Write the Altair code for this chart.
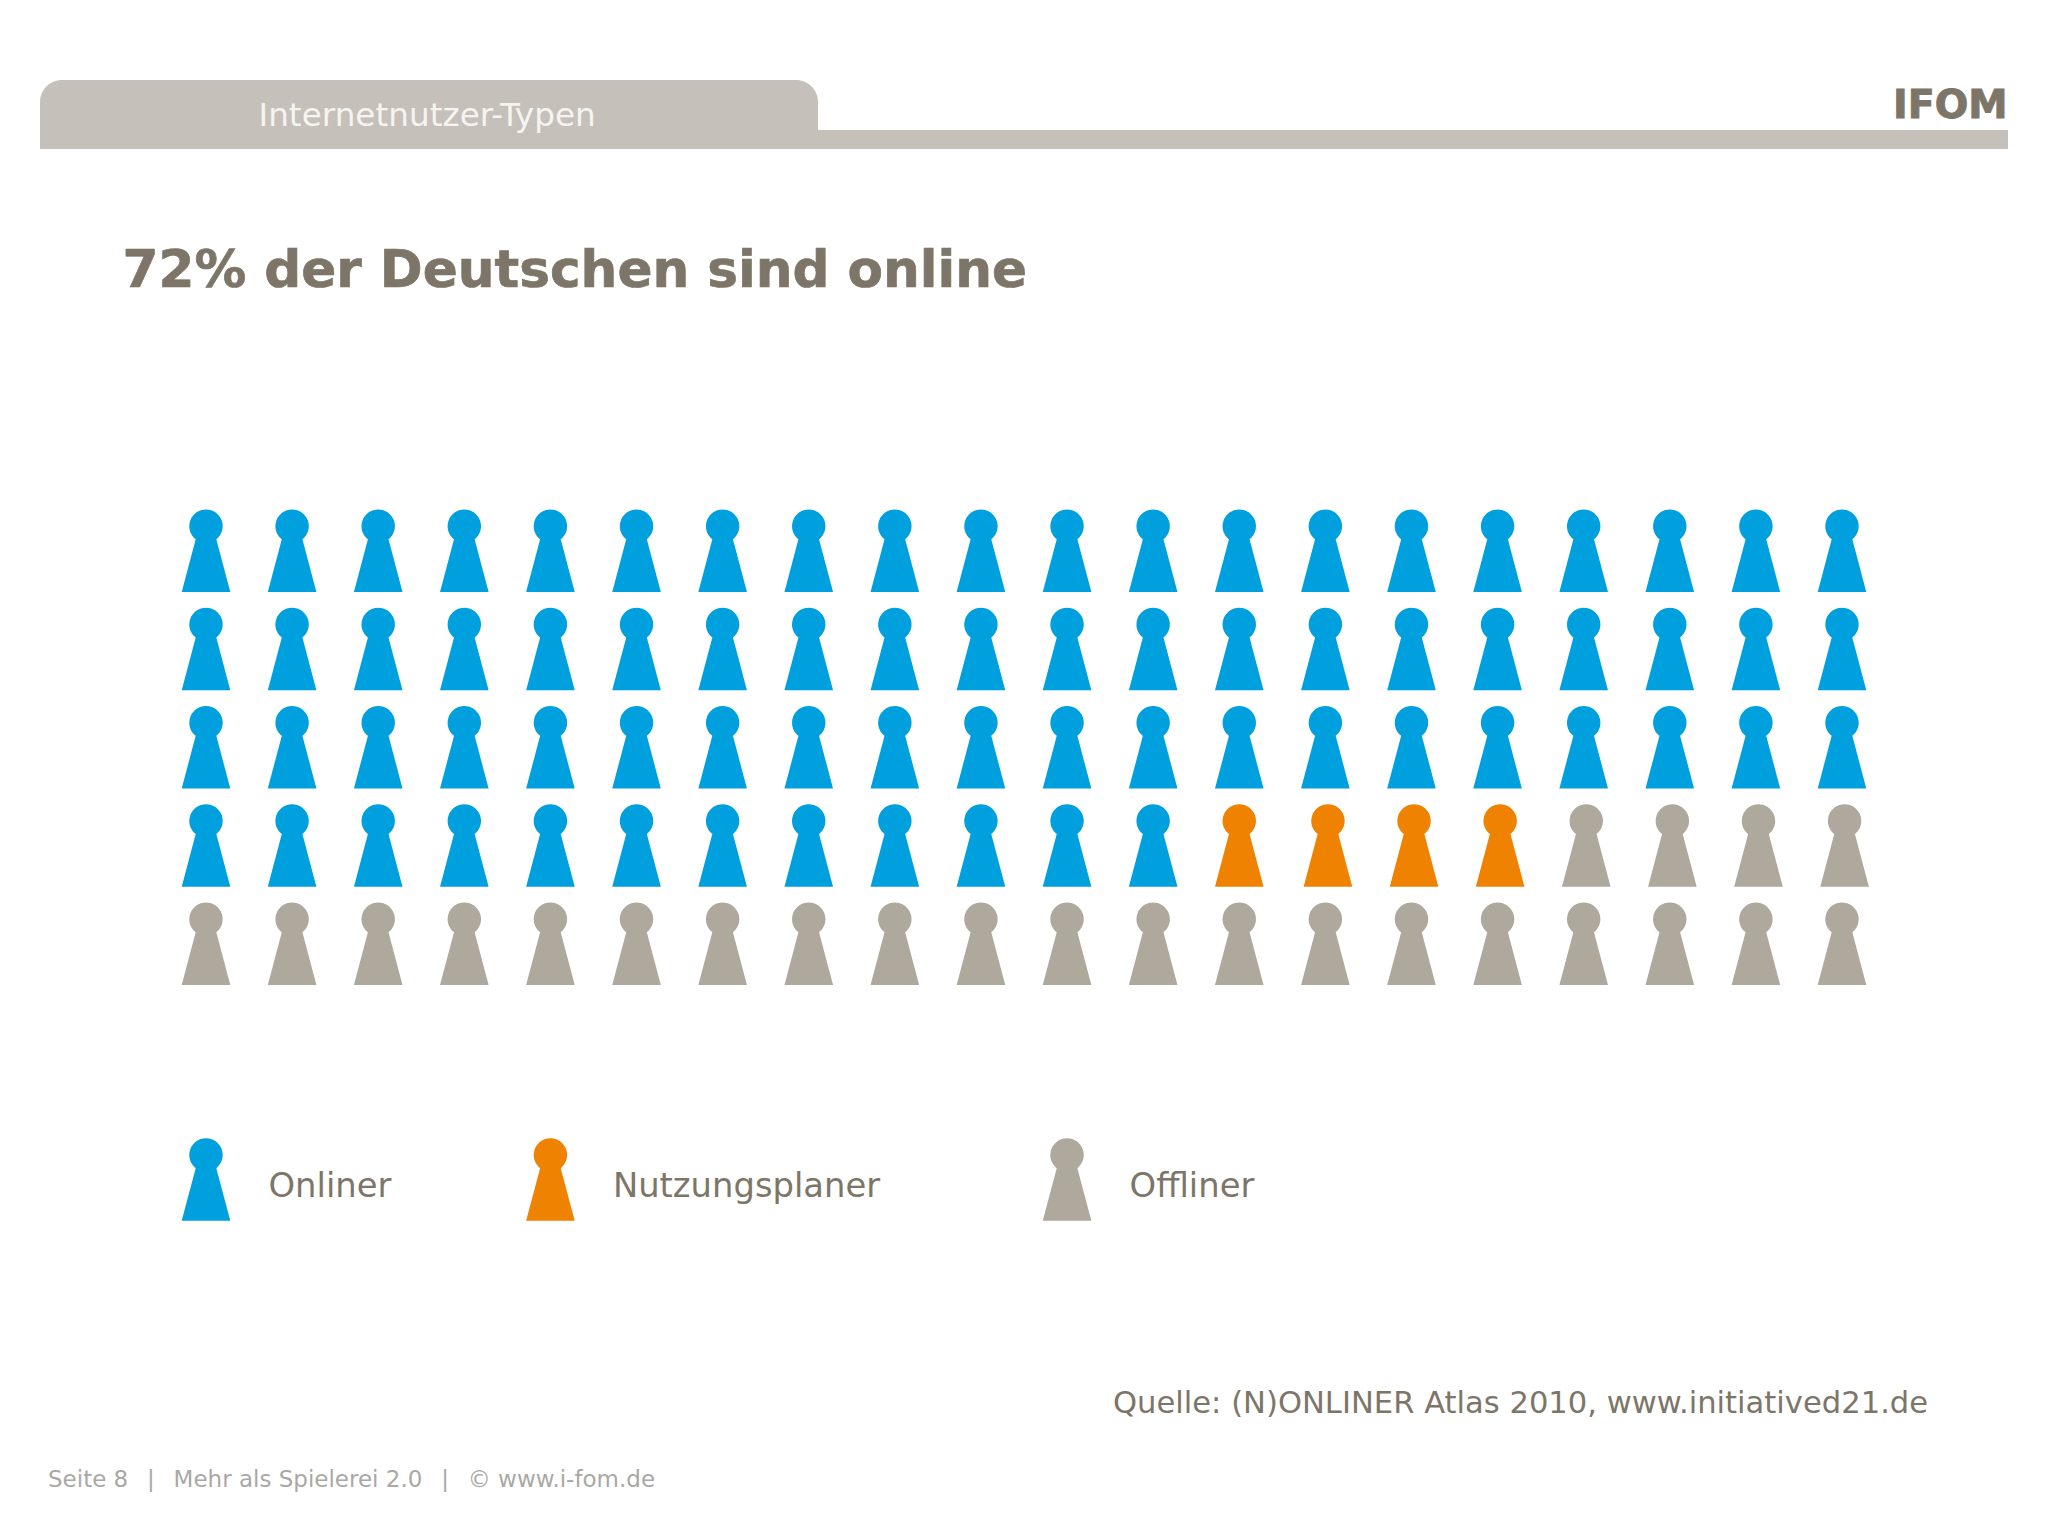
import altair as alt
import pandas as pd

# ---- chart content -------------------------------------------------------
n_columns = 20
row_counts = {
    0: {"Onliner": 20},
    1: {"Onliner": 20},
    2: {"Onliner": 20},
    3: {"Onliner": 12, "Nutzungsplaner": 4, "Offliner": 4},
    4: {"Offliner": 20},
}
categories = ["Onliner", "Nutzungsplaner", "Offliner"]
colors = ["#00a0de", "#ef8200", "#aea89d"]
legend_columns = [0, 4, 10]
legend_row = 6.4
row3_nudge = 0.03  # the row after the blue run sits slightly to the right

tab_title = "Internetnutzer-Typen"
logo = "IFOM"
headline = "72% der Deutschen sind online"
source = "Quelle: (N)ONLINER Atlas 2010, www.initiatived21.de"
footer = "Seite 8\u2002\u00a0|\u2002\u00a0Mehr als Spielerei 2.0\u2002\u00a0|\u2002\u00a0© www.i-fom.de"

TXT = "#7d7668"
BAND = "#c5c0b9"
FONT = "DejaVu Sans"
PAWN = "M-0.25,-0.276 A0.405,0.405 0 1 1 0.25,-0.276 L0.589,1 L-0.589,1 Z"
PAWN_SIZE = 82.5 ** 2
OX, OY = 8, 8  # page margin

# ---- tables --------------------------------------------------------------
rows = []
for row, counts in row_counts.items():
    col = 0
    for cat, n in counts.items():
        for _ in range(n):
            nudge = row3_nudge if (row == 3 and col >= 13) else 0
            rows.append({"col": col + nudge, "row": row, "type": cat})
            col += 1
grid = pd.DataFrame(rows)
leg = pd.DataFrame({"col": legend_columns, "row": [legend_row] * 3, "type": categories})

xs = alt.X("col:Q", axis=None, scale=alt.Scale(domain=[0, 19], range=[206 - OX, 1842 - OX], zero=False, nice=False))
ys = alt.Y("row:Q", axis=None, scale=alt.Scale(domain=[0, 4], range=[550.75 - OY, 943.75 - OY], zero=False, nice=False))
cs = alt.Color("type:N", legend=None, scale=alt.Scale(domain=categories, range=colors))


def label(text, x, y, size, color, weight="normal", thicken=0):
    mark = dict(font=FONT, fontSize=size, color=color, fontWeight=weight, align="left", baseline="alphabetic")
    if thicken:
        mark.update(stroke=color, strokeWidth=thicken)
    return alt.Chart(pd.DataFrame({"t": [text]})).mark_text(**mark).encode(
        text="t:N", x=alt.value(x - OX), y=alt.value(y - OY)
    )


def band(x1, x2, y1, y2, **kw):
    return alt.Chart(pd.DataFrame({"k": [0]})).mark_rect(color=BAND, **kw).encode(
        x=alt.value(x1 - OX), x2=alt.value(x2 - OX), y=alt.value(y1 - OY), y2=alt.value(y2 - OY)
    )


pawns = alt.Chart(grid).mark_point(shape=PAWN, filled=True, opacity=1, size=PAWN_SIZE, strokeWidth=0).encode(x=xs, y=ys, color=cs)
leg_pawns = alt.Chart(leg).mark_point(shape=PAWN, filled=True, opacity=1, size=PAWN_SIZE, strokeWidth=0).encode(x=xs, y=ys, color=cs)
leg_text = alt.Chart(leg).mark_text(font=FONT, fontSize=33.8, color=TXT, align="left", baseline="alphabetic", dx=62.5, dy=17.5).encode(x=xs, y=ys, text="type:N")

chart = alt.layer(
    band(818, 2008, 130, 149),
    band(40, 818, 80, 149, cornerRadiusTopLeft=22, cornerRadiusTopRight=22),
    label(tab_title, 258.5, 125.5, 32.7, "#f6f4f0"),
    label(logo, 1893, 118, 39.5, TXT, "bold", 1.0),
    label(headline, 122.5, 287, 51.7, TXT, "bold", 0.7),
    pawns,
    leg_pawns,
    leg_text,
    label(source, 1113, 1413, 30.6, TXT),
    label(footer, 48, 1487, 23.0, "#aaa8a5"),
).resolve_scale(x="shared", y="shared", color="shared").properties(
    width=2032, height=1520, padding=0, autosize=alt.AutoSizeParams(type="none"), background="white"
).configure_view(stroke=None)

chart.save("out.html", embed_options={"renderer": "svg", "actions": False})
